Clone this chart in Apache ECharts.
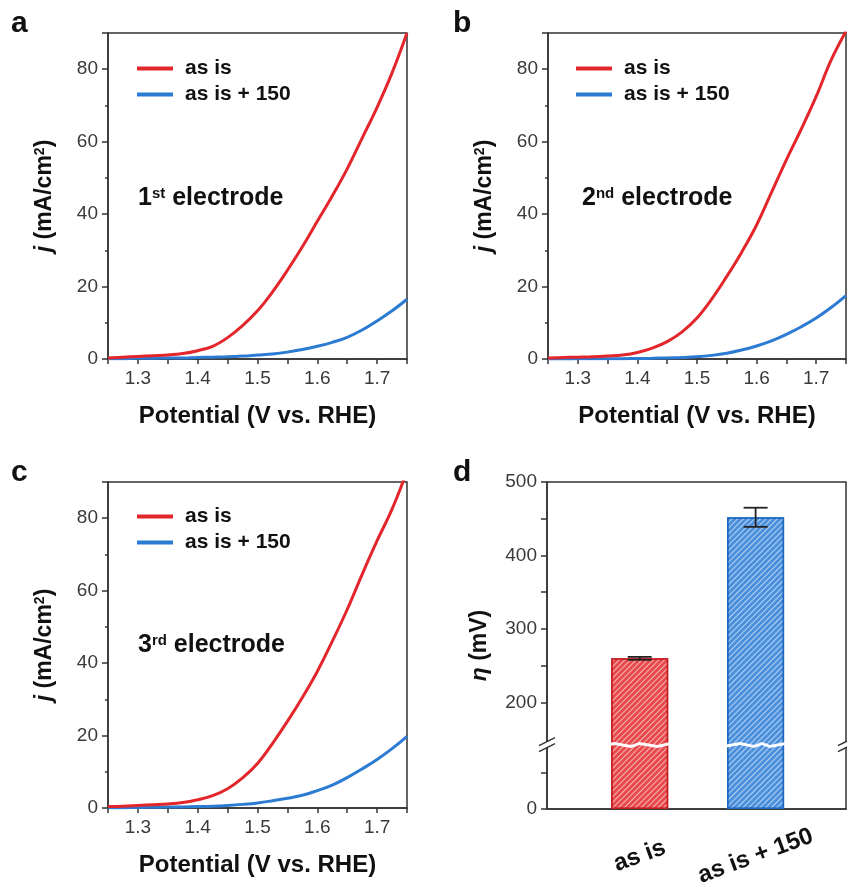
<!DOCTYPE html>
<html><head><meta charset="utf-8">
<script src="https://cdn.jsdelivr.net/npm/echarts@6/dist/echarts.min.js"></script>
<style>html,body{margin:0;padding:0;background:#fff}#c{width:847px;height:886px}</style>
</head><body><div id="c"></div>
<script>
// ---------- data ----------
const potential = [1.25,1.275,1.30,1.325,1.35,1.375,1.40,1.425,1.45,1.475,1.50,1.525,1.55,1.575,1.60,1.625,1.65,1.675,1.70,1.725,1.75];
const asIs1   = [0.3,0.5,0.7,0.9,1.1,1.5,2.3,3.5,5.9,9.2,13.3,18.5,24.5,31,38,45,52.5,61,69.5,79,90];
const plus1   = [0.1,0.1,0.2,0.2,0.3,0.3,0.4,0.5,0.6,0.8,1.1,1.4,1.9,2.6,3.5,4.6,6.0,8.0,10.5,13.3,16.5];
const asIs2   = [0.3,0.4,0.5,0.6,0.8,1.1,1.8,3.0,4.8,7.5,11.3,16.6,22.8,29.5,37,46,55,63.5,72.5,82.5,90.5];
const plus2   = [0,0,0.05,0.05,0.1,0.1,0.15,0.2,0.3,0.4,0.6,1.0,1.6,2.5,3.6,5.0,6.8,8.9,11.3,14.2,17.5];
const asIs3   = [0.4,0.5,0.7,0.9,1.1,1.5,2.3,3.4,5.3,8.3,12.3,17.8,23.9,30.5,37.7,46,54.8,64.5,73.8,82.5,93];
const plus3   = [0.1,0.1,0.15,0.2,0.25,0.3,0.4,0.5,0.7,1.0,1.4,2.0,2.7,3.5,4.8,6.3,8.4,10.8,13.4,16.4,19.8];
const seriesNames = ['as is', 'as is + 150'];
const electrodeLabels = ['1', '2', '3'];
const electrodeSup = ['st', 'nd', 'rd'];
const panelLetters = ['a', 'b', 'c', 'd'];
const barCategories = ['as is', 'as is + 150'];
const barPositions = [1, 2];
const overpotential = [260, 452];
const overpotentialErr = [2, 13];
const etaTicks = [0, 200, 300, 400, 500];
const etaMinorTicks = [50, 250, 350, 450];
const etaBreak = {start:85, end:145};

// ---------- style ----------
const F = '"Liberation Sans", Arial, Helvetica, sans-serif';
const RED = '#e3262b', BLUE = '#2b7bd3';
const AX = '#333';
const curves = [[asIs1, plus1], [asIs2, plus2], [asIs3, plus3]];
const grids = [
  {left:108, top:33, width:299, height:326},
  {left:548, top:33, width:298, height:326},
  {left:108, top:482, width:299, height:326},
  {left:547, top:482, width:299, height:327}
];
const legendPos = [[137, 58], [576, 58], [137, 506]];
const annPos = [[138, 186], [582, 186], [138, 633]];
const letterPos = [[11, 9], [453, 9], [11, 458], [453, 458]];

const axisLine = {show:true, onZero:false, lineStyle:{color:AX, width:1.5}};
const tickStyle = {color:AX, width:1.5};

const xAxes = [], yAxes = [], series = [], legends = [], titles = [];
for (let i = 0; i < 3; i++) {
  xAxes.push({
    gridIndex:i, type:'value', min:1.25, max:1.75, interval:0.05,
    axisLine, axisTick:{show:true, length:5, lineStyle:tickStyle},
    axisLabel:{margin:10, fontSize:19, color:'#3a3a3a', fontFamily:F,
      formatter: v => { const t = Math.round(v*100); return (t % 10 === 0 && t > 125 && t < 175) ? (t/100).toFixed(1) : ''; }},
    splitLine:{show:false},
    name:'Potential (V vs. RHE)', nameLocation:'middle', nameGap:45,
    nameTextStyle:{fontSize:24, fontWeight:'bold', color:'#111', fontFamily:F}
  });
  yAxes.push({
    gridIndex:i, type:'value', min:0, max:90, interval:20,
    axisLine, axisTick:{show:true, length:6, lineStyle:tickStyle},
    minorTick:{show:true, splitNumber:2, length:3, lineStyle:tickStyle},
    axisLabel:{margin:10, fontSize:19, color:'#3a3a3a', fontFamily:F, showMaxLabel:false},
    splitLine:{show:false},
    name:'{i|j} (mA/cm{s|2})', nameLocation:'middle', nameGap:52,
    nameTextStyle:{fontSize:23, fontWeight:'bold', color:'#111', fontFamily:F,
      rich:{ i:{fontSize:23, fontWeight:'bold', fontStyle:'italic', color:'#111', fontFamily:F},
             s:{fontSize:14, fontWeight:'bold', color:'#111', fontFamily:F, verticalAlign:'top'} }}
  });
  [RED, BLUE].forEach((col, k) => {
    series.push({
      type:'line', name:seriesNames[k], xAxisIndex:i, yAxisIndex:i,
      data: potential.map((x, j) => [x, curves[i][k][j]]),
      showSymbol:false, smooth:0.4, clip:true,
      lineStyle:{color:col, width:3}, itemStyle:{color:col}, z: 3 - k
    });
  });
  legends.push({
    data:seriesNames, orient:'vertical', left:legendPos[i][0], top:legendPos[i][1],
    padding:0, itemGap:5, itemWidth:36, itemHeight:4, icon:'rect', selectedMode:false,
    textStyle:{fontSize:21, fontWeight:'bold', color:'#111', fontFamily:F, padding:[0,0,0,7]}
  });
  titles.push({
    text:'{n|' + electrodeLabels[i] + '}{s|' + electrodeSup[i] + '}{n| electrode}',
    left:annPos[i][0], top:annPos[i][1], padding:0,
    textStyle:{ rich:{ n:{fontSize:25, fontWeight:'bold', color:'#111', fontFamily:F},
                       s:{fontSize:15, fontWeight:'bold', color:'#111', fontFamily:F, verticalAlign:'top'} } }
  });
}
panelLetters.forEach((L, i) => titles.push({
  text:L, left:letterPos[i][0], top:letterPos[i][1], padding:0,
  textStyle:{fontSize:30, fontWeight:'bold', color:'#111', fontFamily:F}
}));

// panel d
xAxes.push({
  gridIndex:3, type:'value', min:0.2, max:2.78,
  axisLine, axisTick:{show:false}, splitLine:{show:false},
  axisLabel:{customValues:barPositions, formatter: v => barCategories[Math.round(v) - 1] || '',
    rotate:20, align:'center', verticalAlign:'middle', margin:47,
    fontSize:24, fontWeight:'bold', color:'#111', fontFamily:F}
});
yAxes.push({
  gridIndex:3, type:'value', min:0, max:500, interval:100,
  breaks:[{start:etaBreak.start, end:etaBreak.end, gap:5}],
  breakArea:{show:true, expandOnClick:false, zigzagAmplitude:1.5, zigzagZ:100,
    itemStyle:{color:'#fff', borderColor:'#fff', borderWidth:0, opacity:1}},
  axisLine,
  axisTick:{show:true, length:6, lineStyle:tickStyle, customValues:etaTicks.concat(etaMinorTicks)},
  axisLabel:{margin:10, fontSize:19, color:'#3a3a3a', fontFamily:F, customValues:etaTicks},
  splitLine:{show:false},
  name:'{e|η} (mV)', nameLocation:'middle', nameGap:56,
  nameTextStyle:{fontSize:23, fontWeight:'bold', color:'#111', fontFamily:F,
    rich:{ e:{fontSize:23, fontWeight:'bold', fontStyle:'italic', color:'#111', fontFamily:F} }}
});
const barFill = ['#e8494b', '#4b90dd'];
const barBorder = ['#c81e22', '#1f68c0'];
series.push({
  type:'bar', xAxisIndex:3, yAxisIndex:3, barWidth:57,
  data: barPositions.map((x, i) => ({
    value:[x, overpotential[i]],
    itemStyle:{color:barFill[i], borderColor:barBorder[i], borderWidth:1.5,
      decal:{symbol:'rect', symbolSize:1, dashArrayX:[1,0], dashArrayY:[1,3], rotation:-Math.PI/4, color:'rgba(255,255,255,0.6)'}}
  }))
});
series.push({
  type:'custom', xAxisIndex:3, yAxisIndex:3, z:10,
  data: barPositions.map((x, i) => [x, overpotential[i] - overpotentialErr[i], overpotential[i] + overpotentialErr[i]]),
  renderItem:(params, api) => {
    const lo = api.coord([api.value(0), api.value(1)]);
    const hi = api.coord([api.value(0), api.value(2)]);
    const hw = 12;
    const st = {stroke:'#222', lineWidth:1.8};
    return {type:'group', children:[
      {type:'line', shape:{x1:lo[0], y1:lo[1], x2:hi[0], y2:hi[1]}, style:st},
      {type:'line', shape:{x1:lo[0]-hw, y1:lo[1], x2:lo[0]+hw, y2:lo[1]}, style:st},
      {type:'line', shape:{x1:hi[0]-hw, y1:hi[1], x2:hi[0]+hw, y2:hi[1]}, style:st}
    ]};
  }
});

const chart = echarts.init(document.getElementById('c'), null, {renderer:'canvas'});
chart.setOption({
  animation:false,
  backgroundColor:'#fff',
  grid: grids.map(g => Object.assign({show:true, borderColor:AX, borderWidth:1.5, backgroundColor:'transparent',
    containLabel:false, outerBoundsMode:'none'}, g)),
  xAxis:xAxes, yAxis:yAxes, series, legend:legends, title:titles
});

// axis-break slash marks ("//") on both vertical frame lines of panel d
const yMid = (chart.convertToPixel({yAxisIndex:3}, etaBreak.end) + chart.convertToPixel({yAxisIndex:3}, etaBreak.start)) / 2;
const gd = grids[3];
const slashes = [];
[gd.left, gd.left + gd.width].forEach(x => {
  slashes.push({type:'rect', z:199, shape:{x:x-2, y:yMid-3, width:4, height:6}, style:{fill:'#fff'}});
  [-3, 3].forEach(dy => {
    slashes.push({type:'line', z:200, shape:{x1:x-8, y1:yMid+dy+4, x2:x+8, y2:yMid+dy-4}, style:{stroke:AX, lineWidth:1.5}});
  });
});
chart.setOption({graphic:slashes});
</script></body></html>
